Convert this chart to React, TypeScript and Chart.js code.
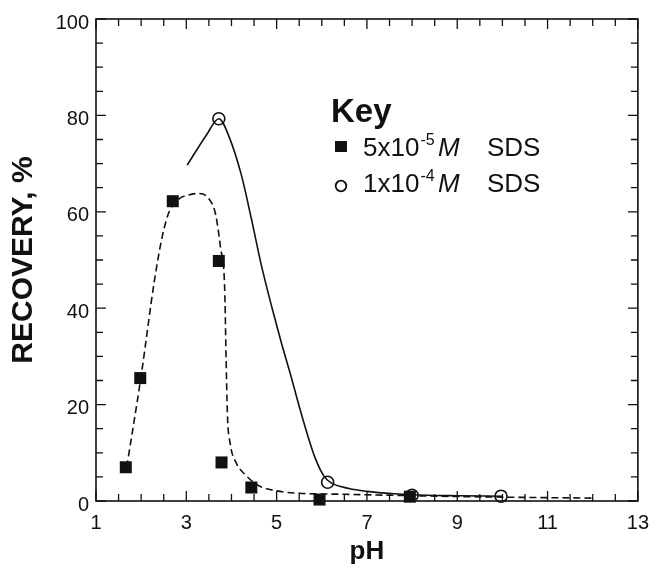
import { useEffect, useRef } from "react";
import { Chart, registerables } from "chart.js";

Chart.register(...registerables);

// ---- data ----
const xTickValues = [1, 3, 5, 7, 9, 11, 13];
const yTickValues = [0, 20, 40, 60, 80, 100];
const xMinorTicks = [1.5, 2, 2.5, 3.5, 4, 4.5, 5.5, 6, 6.5, 7.5, 8, 8.5, 9.5, 10, 10.5, 11.5, 12, 12.5];
const yMinorTicks = [5, 10, 15, 25, 30, 35, 45, 50, 55, 65, 70, 75, 85, 90, 95];

// 5x10^-5 M SDS (filled squares)
const lowSdsPH = [1.66, 1.98, 2.7, 3.72, 3.78, 4.44, 5.95, 7.95];
const lowSdsRecovery = [7, 25.5, 62.2, 49.8, 8, 2.8, 0.3, 0.9];

// 1x10^-4 M SDS (open circles)
const highSdsPH = [3.72, 6.13, 8.0, 9.97];
const highSdsRecovery = [79.3, 3.9, 1.2, 1.0];

// dashed fitted curve (5x10^-5 M)
const lowFitPH = [1.68, 2.0, 2.29, 2.47, 2.62, 2.84, 3.05, 3.28, 3.5, 3.65, 3.76, 3.85, 3.88, 3.91, 3.97, 4.1, 4.3, 4.6, 5.0, 5.5, 6.5, 8.0, 10.0, 12.0];
const lowFitRecovery = [7, 26, 45.5, 55, 60, 62.7, 63.5, 63.8, 62.7, 59.4, 52.4, 44, 30, 18, 12, 8, 5.5, 3.2, 2.1, 1.6, 1.4, 1.1, 0.8, 0.6];

// solid fitted curve (1x10^-4 M)
const highFitPH = [3.02, 3.45, 3.72, 3.95, 4.22, 4.44, 4.66, 4.9, 5.1, 5.3, 5.54, 5.85, 6.06, 6.2, 6.6, 7.0, 7.6, 8.0, 9.0, 10.0];
const highFitRecovery = [69.7, 76, 79.3, 75.5, 67.6, 58.6, 49, 40, 33, 26.5, 18.3, 9, 5, 3.8, 2.6, 2.0, 1.5, 1.3, 1.1, 1.0];

const FONT = "'Liberation Sans', Arial, Helvetica, sans-serif";

const toPoints = (xs: number[], ys: number[]) => xs.map((x, i) => ({ x, y: ys[i] }));

const framePlugin = {
  id: "frameTicks",
  beforeDatasetsDraw(chart: any) {
    const { ctx, chartArea, scales } = chart;
    const { left, right, top, bottom } = chartArea;
    ctx.save();
    ctx.strokeStyle = "#111";
    ctx.lineWidth = 1.6;
    ctx.strokeRect(left, top, right - left, bottom - top);
    ctx.lineWidth = 1.3;
    const drawX = (v: number, len: number) => {
      const px = scales.x.getPixelForValue(v);
      ctx.beginPath();
      ctx.moveTo(px, bottom);
      ctx.lineTo(px, bottom - len);
      ctx.moveTo(px, top);
      ctx.lineTo(px, top + len);
      ctx.stroke();
    };
    const drawY = (v: number, len: number) => {
      const py = scales.y.getPixelForValue(v);
      ctx.beginPath();
      ctx.moveTo(left, py);
      ctx.lineTo(left + len, py);
      ctx.moveTo(right, py);
      ctx.lineTo(right - len, py);
      ctx.stroke();
    };
    xTickValues.forEach((v) => drawX(v, 10));
    xMinorTicks.forEach((v) => drawX(v, 7));
    yTickValues.forEach((v) => drawY(v, 10));
    yMinorTicks.forEach((v) => drawY(v, 7));
    ctx.restore();
  },
  afterDraw(chart: any) {
    const { ctx } = chart;
    ctx.save();
    ctx.fillStyle = "#111";
    ctx.strokeStyle = "#111";
    ctx.textBaseline = "alphabetic";
    ctx.textAlign = "left";
    ctx.font = `bold 33px ${FONT}`;
    ctx.fillText("Key", 331, 122);

    const drawEntry = (base: string, sup: string, y: number) => {
      let x = 363;
      ctx.font = `26px ${FONT}`;
      ctx.fillText(base, x, y);
      x += ctx.measureText(base).width + 1;
      ctx.font = `16px ${FONT}`;
      ctx.fillText(sup, x, y - 11);
      x += ctx.measureText(sup).width - 2;
      ctx.font = `italic 26px ${FONT}`;
      ctx.fillText("M", Math.max(x, 438), y);
      ctx.font = `26px ${FONT}`;
      ctx.fillText("SDS", 487, y);
    };
    drawEntry("5x10", "-5", 156);
    drawEntry("1x10", "-4", 192);

    ctx.fillRect(335, 141, 12, 11);
    ctx.lineWidth = 1.8;
    ctx.beginPath();
    ctx.arc(341, 186, 5.3, 0, Math.PI * 2);
    ctx.stroke();
    ctx.restore();
  },
};

export default function App() {
  const canvasRef = useRef<HTMLCanvasElement | null>(null);

  useEffect(() => {
    const canvas = canvasRef.current;
    if (!canvas) return;
    const chart = new Chart(canvas, {
      type: "scatter",
      data: {
        datasets: [
          {
            label: "5x10^-5 M SDS",
            data: toPoints(lowSdsPH, lowSdsRecovery),
            pointStyle: "rect",
            pointRadius: 8.5,
            pointBackgroundColor: "#111",
            pointBorderColor: "#111",
            pointBorderWidth: 0,
            showLine: false,
            clip: false as any,
          },
          {
            label: "1x10^-4 M SDS",
            data: toPoints(highSdsPH, highSdsRecovery),
            pointStyle: "circle",
            pointRadius: 6,
            pointBackgroundColor: "rgba(255,255,255,0)",
            pointBorderColor: "#111",
            pointBorderWidth: 1.6,
            showLine: false,
            clip: false as any,
          },
          {
            label: "fit low",
            data: toPoints(lowFitPH, lowFitRecovery),
            showLine: true,
            pointRadius: 0,
            borderColor: "#111",
            borderWidth: 1.6,
            borderDash: [7, 4],
            cubicInterpolationMode: "monotone",
            fill: false,
          },
          {
            label: "fit high",
            data: toPoints(highFitPH, highFitRecovery),
            showLine: true,
            pointRadius: 0,
            borderColor: "#111",
            borderWidth: 1.6,
            cubicInterpolationMode: "monotone",
            fill: false,
          },
        ],
      },
      options: {
        responsive: false,
        animation: false,
        layout: { padding: { top: 17, right: 16, bottom: 0, left: 0 } },
        plugins: {
          legend: { display: false },
          tooltip: { enabled: false },
        },
        scales: {
          x: {
            type: "linear",
            min: 1,
            max: 13,
            afterBuildTicks: (scale: any) => {
              scale.ticks = xTickValues.map((v) => ({ value: v }));
            },
            afterFit: (scale: any) => {
              scale.height = 68;
            },
            grid: { display: false, drawTicks: false },
            border: { display: false },
            ticks: {
              color: "#111",
              font: { family: FONT, size: 20 },
              padding: 10,
              maxRotation: 0,
            },
            title: {
              display: true,
              text: "pH",
              color: "#111",
              font: { family: FONT, size: 26, weight: "bold" },
              padding: { top: 0, bottom: 2 },
            },
          },
          y: {
            type: "linear",
            min: 0,
            max: 100,
            afterBuildTicks: (scale: any) => {
              scale.ticks = yTickValues.map((v) => ({ value: v }));
            },
            afterFit: (scale: any) => {
              scale.width = 96;
            },
            grid: { display: false, drawTicks: false },
            border: { display: false },
            ticks: {
              color: "#111",
              font: { family: FONT, size: 20 },
              padding: 7,
              labelOffset: 4,
            },
            title: {
              display: true,
              text: "RECOVERY, %",
              color: "#111",
              font: { family: FONT, size: 30, weight: "bold" },
              padding: { top: 6, bottom: 0 },
            },
          },
        },
      },
      plugins: [framePlugin],
    } as any);
    return () => chart.destroy();
  }, []);

  return (
    <div style={{ position: "absolute", left: 0, top: 0, width: 659, height: 569, background: "#fff" }}>
      <canvas ref={canvasRef} width={659} height={569} />
    </div>
  );
}
